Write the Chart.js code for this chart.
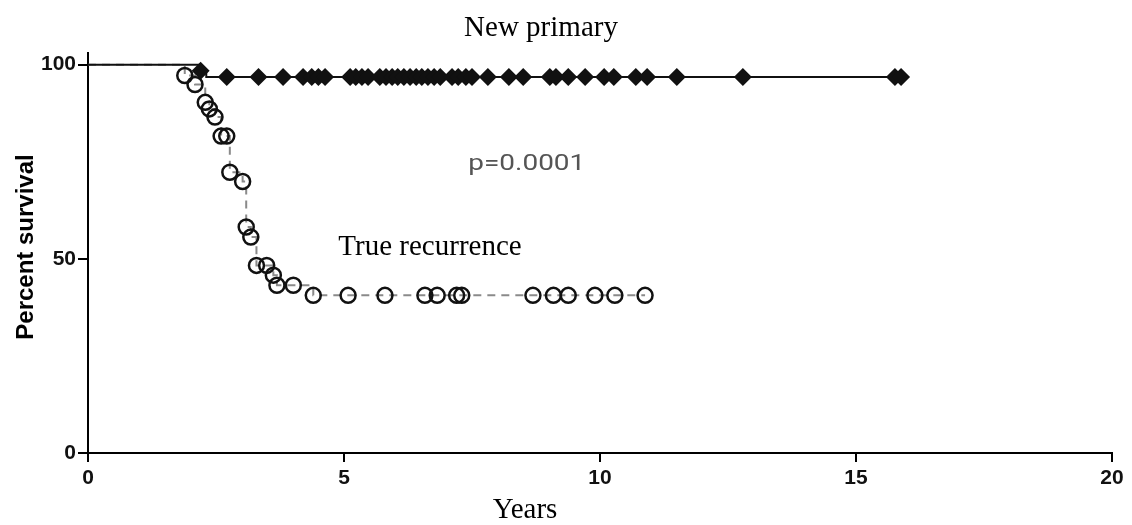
<!DOCTYPE html>
<html>
<head>
<meta charset="utf-8">
<script src="https://cdn.jsdelivr.net/npm/chart.js@4.4.1/dist/chart.umd.min.js"></script>
<style>
  html, body { margin: 0; padding: 0; background: #fff; }
  #wrap { width: 1132px; height: 525px; }
</style>
</head>
<body>
<div id="wrap"><canvas id="km"></canvas></div>
<script>
// new primary: time (years), percent survival, censor mark flag
const npTime = [0, 2.20, 2.31, 2.71, 3.33, 3.81, 4.20, 4.37, 4.50, 4.63, 5.12, 5.23, 5.35, 5.47,
  5.70, 5.82, 5.94, 6.05, 6.17, 6.29, 6.41, 6.52, 6.64, 6.76, 6.88, 7.11, 7.23, 7.38, 7.50,
  7.81, 8.22, 8.50, 9.02, 9.14, 9.38, 9.71, 10.08, 10.27, 10.70, 10.92, 11.50, 12.79, 15.76, 15.88];
const npSurv = [100, 98.4].concat(Array(npTime.length - 2).fill(96.8));
const npMark = [0, 1, 0].concat(Array(npTime.length - 3).fill(1));

// true recurrence
const trTime = [0, 1.89, 2.09, 2.29, 2.37, 2.48, 2.60, 2.71, 2.77, 3.02, 3.09, 3.18, 3.29, 3.49,
  3.62, 3.69, 4.01, 4.40, 5.08, 5.80, 6.58, 6.82, 7.20, 7.30, 8.69, 9.09, 9.38, 9.90, 10.29, 10.88];
const trSurv = [100, 97.2, 94.9, 90.3, 88.6, 86.5, 81.6, 81.6, 72.3, 69.9, 58.2, 55.6, 48.3, 48.3,
  45.8, 43.2, 43.2, 40.6, 40.6, 40.6, 40.6, 40.6, 40.6, 40.6, 40.6, 40.6, 40.6, 40.6, 40.6, 40.6];
const trMark = [0].concat(Array(trTime.length - 1).fill(1));

const xTicks = [0, 5, 10, 15, 20];
const yTicks = [0, 50, 100];

const toPts = (xs, ys) => xs.map((x, i) => ({ x: x, y: ys[i] }));

// titles and notes drawn on top
const labels = {
  id: "labels",
  afterDraw(chart) {
    const c = chart.ctx, x = chart.scales.x, y = chart.scales.y;
    c.save();
    c.fillStyle = "#000";
    c.textAlign = "center";
    c.textBaseline = "alphabetic";
    c.font = "29px 'Liberation Serif', serif";
    c.fillText("New primary", 541, 36);
    c.fillText("Years", 525, 518);
    c.fillText("True recurrence", x.getPixelForValue(6.68), y.getPixelForValue(50.9));

    c.fillStyle = "#555";
    c.font = "22px Roboto, sans-serif";
    c.save();
    c.translate(x.getPixelForValue(8.57), y.getPixelForValue(73.0));
    c.scale(1.27, 1);
    c.fillText("p=0.0001", 0, 0);
    c.restore();

    c.fillStyle = "#000";
    c.font = "bold 24px 'Liberation Sans', Arial, sans-serif";
    c.translate(33, 247);
    c.rotate(-Math.PI / 2);
    c.fillText("Percent survival", 0, 0);
    c.restore();
  }
};

const tickFont = { family: "'Liberation Sans', Arial, sans-serif", size: 21, weight: "bold" };

new Chart(document.getElementById("km"), {
  type: "scatter",
  data: {
    datasets: [
      {
        data: toPts(npTime, npSurv),
        showLine: true,
        stepped: true,
        borderColor: "#111",
        borderWidth: 2,
        pointStyle: "rectRot",
        pointRadius: npMark.map(m => m ? 9 : 0),
        pointBorderWidth: 0,
        pointBackgroundColor: "#111",
        pointBorderColor: "#111"
      },
      {
        data: toPts(trTime, trSurv),
        showLine: true,
        stepped: true,
        borderColor: "#8a8a8a",
        borderWidth: 2,
        borderDash: [8, 6],
        pointStyle: "circle",
        pointRadius: trMark.map(m => m ? 7.5 : 0),
        pointBorderColor: "#111",
        pointBorderWidth: 2.5,
        pointBackgroundColor: "rgba(0,0,0,0)"
      }
    ]
  },
  options: {
    responsive: true,
    maintainAspectRatio: false,
    animation: false,
    events: [],
    layout: { padding: { top: 53, right: 20, left: 0, bottom: 0 } },
    plugins: { legend: { display: false }, tooltip: { enabled: false } },
    scales: {
      x: {
        type: "linear",
        min: 0, max: 20,
        afterBuildTicks: s => { s.ticks = xTicks.map(v => ({ value: v })); },
        afterFit: s => { s.height = 72; },
        border: { color: "#000", width: 2 },
        grid: { drawOnChartArea: false, drawTicks: true, tickLength: 9, color: "#000", lineWidth: 2 },
        ticks: { color: "#111", font: tickFont, padding: 4, maxRotation: 0 }
      },
      y: {
        type: "linear",
        min: 0, max: 103,
        afterBuildTicks: s => { s.ticks = yTicks.map(v => ({ value: v })); },
        afterFit: s => { s.width = 88; },
        border: { color: "#000", width: 2 },
        grid: { drawOnChartArea: false, drawTicks: true, tickLength: 10, color: "#000", lineWidth: 2 },
        ticks: { color: "#111", font: tickFont, padding: 2 }
      }
    }
  },
  plugins: [labels]
});
</script>
</body>
</html>
